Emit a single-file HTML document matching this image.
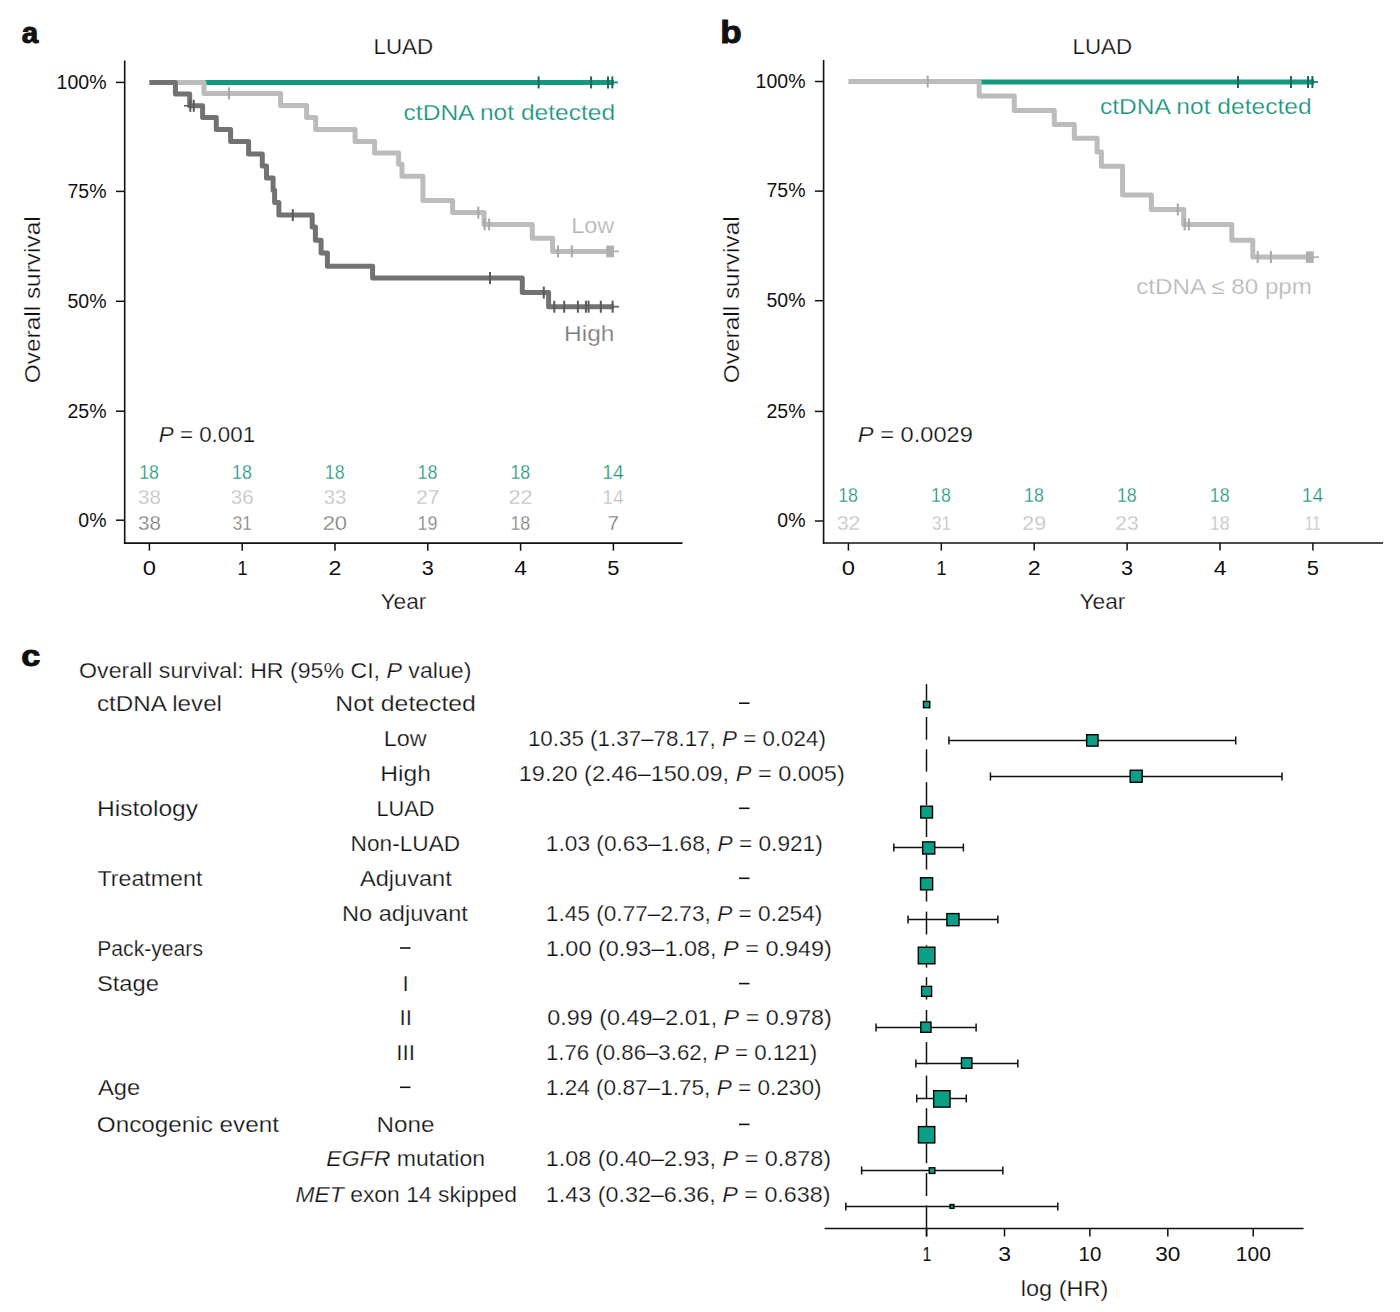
<!DOCTYPE html>
<html><head><meta charset="utf-8"><style>
html,body{margin:0;padding:0;background:#fff;}
svg{display:block;font-family:"Liberation Sans",sans-serif;}
text{stroke:#fff;stroke-width:0.25px;}
text.sm{stroke:none;}
</style></head><body>
<svg width="1400" height="1312" viewBox="0 0 1400 1312">
<rect width="1400" height="1312" fill="#fff"/>
<line x1="124.70" y1="60.60" x2="124.70" y2="543.85" stroke="#111" stroke-width="1.6"/>
<line x1="123.90" y1="543.10" x2="682.50" y2="543.10" stroke="#111" stroke-width="1.6"/>
<line x1="116.00" y1="82.40" x2="124.70" y2="82.40" stroke="#111" stroke-width="1.5"/>
<line x1="116.00" y1="191.40" x2="124.70" y2="191.40" stroke="#111" stroke-width="1.5"/>
<line x1="116.00" y1="301.30" x2="124.70" y2="301.30" stroke="#111" stroke-width="1.5"/>
<line x1="116.00" y1="411.20" x2="124.70" y2="411.20" stroke="#111" stroke-width="1.5"/>
<line x1="116.00" y1="520.20" x2="124.70" y2="520.20" stroke="#111" stroke-width="1.5"/>
<line x1="149.40" y1="543.10" x2="149.40" y2="550.70" stroke="#111" stroke-width="1.5"/>
<line x1="242.20" y1="543.10" x2="242.20" y2="550.70" stroke="#111" stroke-width="1.5"/>
<line x1="335.00" y1="543.10" x2="335.00" y2="550.70" stroke="#111" stroke-width="1.5"/>
<line x1="427.80" y1="543.10" x2="427.80" y2="550.70" stroke="#111" stroke-width="1.5"/>
<line x1="520.60" y1="543.10" x2="520.60" y2="550.70" stroke="#111" stroke-width="1.5"/>
<line x1="613.40" y1="543.10" x2="613.40" y2="550.70" stroke="#111" stroke-width="1.5"/>
<line x1="823.60" y1="60.00" x2="823.60" y2="543.75" stroke="#111" stroke-width="1.6"/>
<line x1="822.80" y1="543.00" x2="1383.00" y2="543.00" stroke="#111" stroke-width="1.6"/>
<line x1="814.90" y1="81.50" x2="823.60" y2="81.50" stroke="#111" stroke-width="1.5"/>
<line x1="814.90" y1="191.10" x2="823.60" y2="191.10" stroke="#111" stroke-width="1.5"/>
<line x1="814.90" y1="300.70" x2="823.60" y2="300.70" stroke="#111" stroke-width="1.5"/>
<line x1="814.90" y1="411.40" x2="823.60" y2="411.40" stroke="#111" stroke-width="1.5"/>
<line x1="814.90" y1="521.00" x2="823.60" y2="521.00" stroke="#111" stroke-width="1.5"/>
<line x1="848.40" y1="543.00" x2="848.40" y2="550.60" stroke="#111" stroke-width="1.5"/>
<line x1="941.30" y1="543.00" x2="941.30" y2="550.60" stroke="#111" stroke-width="1.5"/>
<line x1="1034.20" y1="543.00" x2="1034.20" y2="550.60" stroke="#111" stroke-width="1.5"/>
<line x1="1127.10" y1="543.00" x2="1127.10" y2="550.60" stroke="#111" stroke-width="1.5"/>
<line x1="1220.00" y1="543.00" x2="1220.00" y2="550.60" stroke="#111" stroke-width="1.5"/>
<line x1="1312.90" y1="543.00" x2="1312.90" y2="550.60" stroke="#111" stroke-width="1.5"/>
<line x1="202.00" y1="82.40" x2="614.00" y2="82.40" stroke="#119a80" stroke-width="5.0"/>
<line x1="614.00" y1="82.40" x2="618.00" y2="82.40" stroke="#119a80" stroke-width="2"/>
<line x1="538.60" y1="76.40" x2="538.60" y2="88.40" stroke="#1d6656" stroke-width="2.0"/>
<line x1="591.10" y1="76.40" x2="591.10" y2="88.40" stroke="#1d6656" stroke-width="2.0"/>
<line x1="608.00" y1="76.40" x2="608.00" y2="88.40" stroke="#1d6656" stroke-width="2.0"/>
<line x1="612.30" y1="76.40" x2="612.30" y2="88.40" stroke="#1d6656" stroke-width="2.0"/>
<path d="M149.40,82.40 H204.00 V93.40 H280.60 V105.40 H306.60 V117.40 H315.70 V129.40 H355.10 V141.40 H374.60 V152.90 H398.60 V164.30 H402.00 V176.30 H422.90 V200.60 H452.60 V212.60 H484.00 V224.40 H532.30 V238.30 H552.60 V251.40 H614.00" fill="none" stroke="#bcbcbc" stroke-width="5.0" stroke-linejoin="round" stroke-linecap="butt"/>
<line x1="614.00" y1="251.40" x2="619.00" y2="251.40" stroke="#bcbcbc" stroke-width="2"/>
<line x1="228.90" y1="87.40" x2="228.90" y2="99.40" stroke="#a8a8a8" stroke-width="2.0"/>
<line x1="478.30" y1="206.60" x2="478.30" y2="218.60" stroke="#a8a8a8" stroke-width="2.0"/>
<line x1="484.60" y1="218.40" x2="484.60" y2="230.40" stroke="#a8a8a8" stroke-width="2.0"/>
<line x1="489.10" y1="218.40" x2="489.10" y2="230.40" stroke="#a8a8a8" stroke-width="2.0"/>
<line x1="558.00" y1="245.40" x2="558.00" y2="257.40" stroke="#a8a8a8" stroke-width="2.0"/>
<line x1="571.80" y1="245.40" x2="571.80" y2="257.40" stroke="#a8a8a8" stroke-width="2.0"/>
<rect x="606.2" y="245.6" width="7.8" height="11.6" fill="#b0b0b0"/>
<path d="M149.40,82.40 H175.40 V93.90 H189.70 V105.80 H202.60 V117.40 H216.30 V129.40 H230.60 V141.40 H248.60 V154.00 H262.30 V166.00 H266.50 V178.00 H273.10 V190.30 H274.60 V202.60 H278.90 V215.10 H312.20 V227.10 H315.40 V240.30 H321.10 V252.90 H327.40 V266.30 H372.60 V278.00 H522.30 V292.60 H548.60 V306.70 H614.00" fill="none" stroke="#727272" stroke-width="5.0" stroke-linejoin="round" stroke-linecap="butt"/>
<line x1="614.00" y1="306.70" x2="619.00" y2="306.70" stroke="#727272" stroke-width="2"/>
<line x1="190.30" y1="99.80" x2="190.30" y2="111.80" stroke="#5a5a5a" stroke-width="2.0"/>
<line x1="193.80" y1="99.80" x2="193.80" y2="111.80" stroke="#5a5a5a" stroke-width="2.0"/>
<line x1="184.00" y1="105.80" x2="190.00" y2="105.80" stroke="#5a5a5a" stroke-width="1.5"/>
<line x1="292.80" y1="209.10" x2="292.80" y2="221.10" stroke="#5a5a5a" stroke-width="2.0"/>
<line x1="490.00" y1="272.00" x2="490.00" y2="284.00" stroke="#5a5a5a" stroke-width="2.0"/>
<line x1="543.80" y1="286.60" x2="543.80" y2="298.60" stroke="#5a5a5a" stroke-width="2.0"/>
<line x1="554.30" y1="300.70" x2="554.30" y2="312.70" stroke="#5a5a5a" stroke-width="2.0"/>
<line x1="564.20" y1="300.70" x2="564.20" y2="312.70" stroke="#5a5a5a" stroke-width="2.0"/>
<line x1="577.90" y1="300.70" x2="577.90" y2="312.70" stroke="#5a5a5a" stroke-width="2.0"/>
<line x1="585.90" y1="300.70" x2="585.90" y2="312.70" stroke="#5a5a5a" stroke-width="2.0"/>
<line x1="588.60" y1="300.70" x2="588.60" y2="312.70" stroke="#5a5a5a" stroke-width="2.0"/>
<line x1="600.80" y1="300.70" x2="600.80" y2="312.70" stroke="#5a5a5a" stroke-width="2.0"/>
<line x1="612.60" y1="300.70" x2="612.60" y2="312.70" stroke="#5a5a5a" stroke-width="2.0"/>
<line x1="977.00" y1="82.00" x2="1314.00" y2="82.00" stroke="#119a80" stroke-width="5.0"/>
<line x1="1314.00" y1="82.00" x2="1318.00" y2="82.00" stroke="#119a80" stroke-width="2"/>
<line x1="1238.00" y1="76.00" x2="1238.00" y2="88.00" stroke="#1d6656" stroke-width="2.0"/>
<line x1="1291.00" y1="76.00" x2="1291.00" y2="88.00" stroke="#1d6656" stroke-width="2.0"/>
<line x1="1308.00" y1="76.00" x2="1308.00" y2="88.00" stroke="#1d6656" stroke-width="2.0"/>
<line x1="1312.40" y1="76.00" x2="1312.40" y2="88.00" stroke="#1d6656" stroke-width="2.0"/>
<path d="M848.40,81.60 H979.20 V96.10 H1014.30 V110.60 H1054.30 V124.50 H1074.30 V138.30 H1097.10 V152.10 H1101.40 V166.30 H1122.60 V195.10 H1151.40 V209.40 H1183.70 V224.40 H1231.80 V240.20 H1252.80 V257.10 H1314.00" fill="none" stroke="#bcbcbc" stroke-width="5.0" stroke-linejoin="round" stroke-linecap="butt"/>
<line x1="1314.00" y1="257.10" x2="1319.00" y2="257.10" stroke="#bcbcbc" stroke-width="2"/>
<line x1="927.70" y1="75.60" x2="927.70" y2="87.60" stroke="#a8a8a8" stroke-width="2.0"/>
<line x1="1177.80" y1="203.40" x2="1177.80" y2="215.40" stroke="#a8a8a8" stroke-width="2.0"/>
<line x1="1184.60" y1="218.40" x2="1184.60" y2="230.40" stroke="#a8a8a8" stroke-width="2.0"/>
<line x1="1188.90" y1="218.40" x2="1188.90" y2="230.40" stroke="#a8a8a8" stroke-width="2.0"/>
<line x1="1257.70" y1="251.10" x2="1257.70" y2="263.10" stroke="#a8a8a8" stroke-width="2.0"/>
<line x1="1270.90" y1="251.10" x2="1270.90" y2="263.10" stroke="#a8a8a8" stroke-width="2.0"/>
<rect x="1306.0" y="251.3" width="7.8" height="11.6" fill="#b0b0b0"/>
<text x="21.73" y="43.40" font-size="30" fill="#111" textLength="16.48" lengthAdjust="spacingAndGlyphs" style="stroke:#111;stroke-width:1.0px"><tspan font-weight="bold">a</tspan></text>
<text x="720.18" y="43.40" font-size="32" fill="#111" textLength="21.46" lengthAdjust="spacingAndGlyphs" style="stroke:#111;stroke-width:1.0px"><tspan font-weight="bold">b</tspan></text>
<text x="373.47" y="53.90" font-size="21.5" fill="#111" textLength="59.60" lengthAdjust="spacingAndGlyphs">LUAD</text>
<text x="1072.57" y="53.60" font-size="21.5" fill="#111" textLength="59.50" lengthAdjust="spacingAndGlyphs">LUAD</text>
<text x="403.56" y="119.90" font-size="22.5" fill="#13927a" textLength="211.61" lengthAdjust="spacingAndGlyphs">ctDNA not detected</text>
<text x="1099.96" y="114.40" font-size="22.5" fill="#13927a" textLength="211.61" lengthAdjust="spacingAndGlyphs">ctDNA not detected</text>
<text x="571.17" y="232.80" font-size="22.5" fill="#b3b3b3" textLength="43.07" lengthAdjust="spacingAndGlyphs">Low</text>
<text x="564.09" y="340.90" font-size="22.5" fill="#7a7a7a" textLength="50.40" lengthAdjust="spacingAndGlyphs">High</text>
<text x="1136.28" y="294.30" font-size="21.5" fill="#b8b8b8" textLength="175.60" lengthAdjust="spacingAndGlyphs">ctDNA ≤ 80 ppm</text>
<text class="sm" x="56.62" y="88.70" font-size="19.5" fill="#111" textLength="49.87" lengthAdjust="spacingAndGlyphs">100%</text>
<text class="sm" x="67.47" y="197.70" font-size="19.5" fill="#111" textLength="39.03" lengthAdjust="spacingAndGlyphs">75%</text>
<text class="sm" x="67.47" y="307.60" font-size="19.5" fill="#111" textLength="39.03" lengthAdjust="spacingAndGlyphs">50%</text>
<text class="sm" x="67.47" y="417.50" font-size="19.5" fill="#111" textLength="39.03" lengthAdjust="spacingAndGlyphs">25%</text>
<text class="sm" x="78.31" y="526.50" font-size="19.5" fill="#111" textLength="28.18" lengthAdjust="spacingAndGlyphs">0%</text>
<text class="sm" x="142.77" y="575.00" font-size="19.5" fill="#111" textLength="13.26" lengthAdjust="spacingAndGlyphs">0</text>
<text class="sm" x="237.52" y="575.00" font-size="19.5" fill="#111" textLength="10.06" lengthAdjust="spacingAndGlyphs">1</text>
<text class="sm" x="328.53" y="575.00" font-size="19.5" fill="#111" textLength="12.94" lengthAdjust="spacingAndGlyphs">2</text>
<text class="sm" x="421.82" y="575.00" font-size="19.5" fill="#111" textLength="12.08" lengthAdjust="spacingAndGlyphs">3</text>
<text class="sm" x="514.27" y="575.00" font-size="19.5" fill="#111" textLength="12.80" lengthAdjust="spacingAndGlyphs">4</text>
<text class="sm" x="607.32" y="575.00" font-size="19.5" fill="#111" textLength="12.20" lengthAdjust="spacingAndGlyphs">5</text>
<g transform="translate(40.20,300) rotate(-90)">
<text x="-83.16" y="0.00" font-size="22.5" fill="#111" textLength="166.79" lengthAdjust="spacingAndGlyphs">Overall survival</text>
</g>
<text x="380.52" y="609.00" font-size="22" fill="#111" textLength="45.84" lengthAdjust="spacingAndGlyphs">Year</text>
<text class="sm" x="755.62" y="87.80" font-size="19.5" fill="#111" textLength="49.87" lengthAdjust="spacingAndGlyphs">100%</text>
<text class="sm" x="766.47" y="197.40" font-size="19.5" fill="#111" textLength="39.03" lengthAdjust="spacingAndGlyphs">75%</text>
<text class="sm" x="766.47" y="307.00" font-size="19.5" fill="#111" textLength="39.03" lengthAdjust="spacingAndGlyphs">50%</text>
<text class="sm" x="766.47" y="417.70" font-size="19.5" fill="#111" textLength="39.03" lengthAdjust="spacingAndGlyphs">25%</text>
<text class="sm" x="777.31" y="527.30" font-size="19.5" fill="#111" textLength="28.18" lengthAdjust="spacingAndGlyphs">0%</text>
<text class="sm" x="841.77" y="575.00" font-size="19.5" fill="#111" textLength="13.26" lengthAdjust="spacingAndGlyphs">0</text>
<text class="sm" x="936.62" y="575.00" font-size="19.5" fill="#111" textLength="10.06" lengthAdjust="spacingAndGlyphs">1</text>
<text class="sm" x="1027.73" y="575.00" font-size="19.5" fill="#111" textLength="12.94" lengthAdjust="spacingAndGlyphs">2</text>
<text class="sm" x="1121.12" y="575.00" font-size="19.5" fill="#111" textLength="12.08" lengthAdjust="spacingAndGlyphs">3</text>
<text class="sm" x="1213.67" y="575.00" font-size="19.5" fill="#111" textLength="12.80" lengthAdjust="spacingAndGlyphs">4</text>
<text class="sm" x="1306.82" y="575.00" font-size="19.5" fill="#111" textLength="12.20" lengthAdjust="spacingAndGlyphs">5</text>
<g transform="translate(739.20,300) rotate(-90)">
<text x="-83.16" y="0.00" font-size="22.5" fill="#111" textLength="166.79" lengthAdjust="spacingAndGlyphs">Overall survival</text>
</g>
<text x="1079.52" y="609.00" font-size="22" fill="#111" textLength="45.84" lengthAdjust="spacingAndGlyphs">Year</text>
<text x="158.81" y="442.00" font-size="22" fill="#111" textLength="96.28" lengthAdjust="spacingAndGlyphs"><tspan font-style="italic">P</tspan> = 0.001</text>
<text x="857.87" y="441.80" font-size="22" fill="#111" textLength="114.95" lengthAdjust="spacingAndGlyphs"><tspan font-style="italic">P</tspan> = 0.0029</text>
<text x="139.19" y="478.90" font-size="20" fill="#13927a" textLength="19.83" lengthAdjust="spacingAndGlyphs" style="stroke:#fff;stroke-width:0.3px">18</text>
<text x="231.99" y="478.90" font-size="20" fill="#13927a" textLength="19.83" lengthAdjust="spacingAndGlyphs" style="stroke:#fff;stroke-width:0.3px">18</text>
<text x="324.79" y="478.90" font-size="20" fill="#13927a" textLength="19.83" lengthAdjust="spacingAndGlyphs" style="stroke:#fff;stroke-width:0.3px">18</text>
<text x="417.59" y="478.90" font-size="20" fill="#13927a" textLength="19.83" lengthAdjust="spacingAndGlyphs" style="stroke:#fff;stroke-width:0.3px">18</text>
<text x="510.39" y="478.90" font-size="20" fill="#13927a" textLength="19.83" lengthAdjust="spacingAndGlyphs" style="stroke:#fff;stroke-width:0.3px">18</text>
<text x="602.17" y="478.90" font-size="20" fill="#13927a" textLength="21.54" lengthAdjust="spacingAndGlyphs" style="stroke:#fff;stroke-width:0.3px">14</text>
<text x="138.07" y="504.00" font-size="20" fill="#bfbfbf" textLength="22.77" lengthAdjust="spacingAndGlyphs" style="stroke:#fff;stroke-width:0.3px">38</text>
<text x="230.82" y="504.00" font-size="20" fill="#bfbfbf" textLength="22.89" lengthAdjust="spacingAndGlyphs" style="stroke:#fff;stroke-width:0.3px">36</text>
<text x="323.78" y="504.00" font-size="20" fill="#bfbfbf" textLength="22.56" lengthAdjust="spacingAndGlyphs" style="stroke:#fff;stroke-width:0.3px">33</text>
<text x="415.98" y="504.00" font-size="20" fill="#bfbfbf" textLength="23.64" lengthAdjust="spacingAndGlyphs" style="stroke:#fff;stroke-width:0.3px">27</text>
<text x="508.56" y="504.00" font-size="20" fill="#bfbfbf" textLength="24.08" lengthAdjust="spacingAndGlyphs" style="stroke:#fff;stroke-width:0.3px">22</text>
<text x="602.17" y="504.00" font-size="20" fill="#bfbfbf" textLength="21.54" lengthAdjust="spacingAndGlyphs" style="stroke:#fff;stroke-width:0.3px">14</text>
<text x="138.07" y="529.60" font-size="20" fill="#7a7a7a" textLength="22.77" lengthAdjust="spacingAndGlyphs" style="stroke:#fff;stroke-width:0.3px">38</text>
<text x="232.80" y="529.60" font-size="20" fill="#7a7a7a" textLength="18.98" lengthAdjust="spacingAndGlyphs" style="stroke:#fff;stroke-width:0.3px">31</text>
<text x="322.70" y="529.60" font-size="20" fill="#7a7a7a" textLength="24.36" lengthAdjust="spacingAndGlyphs" style="stroke:#fff;stroke-width:0.3px">20</text>
<text x="417.53" y="529.60" font-size="20" fill="#7a7a7a" textLength="20.02" lengthAdjust="spacingAndGlyphs" style="stroke:#fff;stroke-width:0.3px">19</text>
<text x="510.39" y="529.60" font-size="20" fill="#7a7a7a" textLength="19.83" lengthAdjust="spacingAndGlyphs" style="stroke:#fff;stroke-width:0.3px">18</text>
<text x="607.64" y="529.60" font-size="20" fill="#7a7a7a" textLength="11.50" lengthAdjust="spacingAndGlyphs" style="stroke:#fff;stroke-width:0.3px">7</text>
<text x="838.19" y="501.50" font-size="20" fill="#13927a" textLength="19.83" lengthAdjust="spacingAndGlyphs" style="stroke:#fff;stroke-width:0.3px">18</text>
<text x="931.09" y="501.50" font-size="20" fill="#13927a" textLength="19.83" lengthAdjust="spacingAndGlyphs" style="stroke:#fff;stroke-width:0.3px">18</text>
<text x="1023.99" y="501.50" font-size="20" fill="#13927a" textLength="19.83" lengthAdjust="spacingAndGlyphs" style="stroke:#fff;stroke-width:0.3px">18</text>
<text x="1116.89" y="501.50" font-size="20" fill="#13927a" textLength="19.83" lengthAdjust="spacingAndGlyphs" style="stroke:#fff;stroke-width:0.3px">18</text>
<text x="1209.79" y="501.50" font-size="20" fill="#13927a" textLength="19.83" lengthAdjust="spacingAndGlyphs" style="stroke:#fff;stroke-width:0.3px">18</text>
<text x="1301.67" y="501.50" font-size="20" fill="#13927a" textLength="21.54" lengthAdjust="spacingAndGlyphs" style="stroke:#fff;stroke-width:0.3px">14</text>
<text x="836.90" y="529.60" font-size="20" fill="#bfbfbf" textLength="23.25" lengthAdjust="spacingAndGlyphs" style="stroke:#fff;stroke-width:0.3px">32</text>
<text x="931.90" y="529.60" font-size="20" fill="#bfbfbf" textLength="18.98" lengthAdjust="spacingAndGlyphs" style="stroke:#fff;stroke-width:0.3px">31</text>
<text x="1022.27" y="529.60" font-size="20" fill="#bfbfbf" textLength="23.79" lengthAdjust="spacingAndGlyphs" style="stroke:#fff;stroke-width:0.3px">29</text>
<text x="1115.34" y="529.60" font-size="20" fill="#bfbfbf" textLength="23.38" lengthAdjust="spacingAndGlyphs" style="stroke:#fff;stroke-width:0.3px">23</text>
<text x="1209.79" y="529.60" font-size="20" fill="#bfbfbf" textLength="19.83" lengthAdjust="spacingAndGlyphs" style="stroke:#fff;stroke-width:0.3px">18</text>
<text x="1304.76" y="529.60" font-size="20" fill="#bfbfbf" textLength="15.89" lengthAdjust="spacingAndGlyphs" style="stroke:#fff;stroke-width:0.3px">11</text>
<text x="21.16" y="665.80" font-size="30" fill="#111" textLength="19.04" lengthAdjust="spacingAndGlyphs" style="stroke:#111;stroke-width:1.0px"><tspan font-weight="bold">c</tspan></text>
<text x="79.10" y="677.90" font-size="21.5" fill="#111" textLength="392.33" lengthAdjust="spacingAndGlyphs">Overall survival: HR (95% CI, <tspan font-style="italic">P</tspan> value)</text>
<text x="96.98" y="710.80" font-size="22" fill="#111" textLength="125.02" lengthAdjust="spacingAndGlyphs">ctDNA level</text>
<text x="96.98" y="815.90" font-size="22" fill="#111" textLength="101.06" lengthAdjust="spacingAndGlyphs">Histology</text>
<text x="97.48" y="885.90" font-size="22" fill="#111" textLength="104.89" lengthAdjust="spacingAndGlyphs">Treatment</text>
<text x="97.27" y="955.60" font-size="22" fill="#111" textLength="105.70" lengthAdjust="spacingAndGlyphs">Pack-years</text>
<text x="96.92" y="991.20" font-size="22" fill="#111" textLength="62.03" lengthAdjust="spacingAndGlyphs">Stage</text>
<text x="97.95" y="1094.90" font-size="22" fill="#111" textLength="42.30" lengthAdjust="spacingAndGlyphs">Age</text>
<text x="96.85" y="1132.00" font-size="22" fill="#111" textLength="182.13" lengthAdjust="spacingAndGlyphs">Oncogenic event</text>
<text x="335.37" y="710.80" font-size="22" fill="#111" textLength="140.53" lengthAdjust="spacingAndGlyphs">Not detected</text>
<text x="383.68" y="745.80" font-size="22" fill="#111" textLength="42.96" lengthAdjust="spacingAndGlyphs">Low</text>
<text x="380.28" y="781.20" font-size="22" fill="#111" textLength="50.62" lengthAdjust="spacingAndGlyphs">High</text>
<text x="376.42" y="815.90" font-size="22" fill="#111" textLength="58.03" lengthAdjust="spacingAndGlyphs">LUAD</text>
<text x="350.64" y="850.80" font-size="22" fill="#111" textLength="109.54" lengthAdjust="spacingAndGlyphs">Non-LUAD</text>
<text x="359.95" y="885.90" font-size="22" fill="#111" textLength="91.82" lengthAdjust="spacingAndGlyphs">Adjuvant</text>
<text x="341.96" y="921.00" font-size="22" fill="#111" textLength="125.91" lengthAdjust="spacingAndGlyphs">No adjuvant</text>
<text x="402.57" y="991.20" font-size="22.5" fill="#111" textLength="6.25" lengthAdjust="spacingAndGlyphs">I</text>
<text x="399.47" y="1025.00" font-size="22.5" fill="#111" textLength="12.50" lengthAdjust="spacingAndGlyphs">II</text>
<text x="396.27" y="1059.60" font-size="22.5" fill="#111" textLength="18.75" lengthAdjust="spacingAndGlyphs">III</text>
<text x="376.41" y="1132.00" font-size="22" fill="#111" textLength="57.97" lengthAdjust="spacingAndGlyphs">None</text>
<text x="326.39" y="1165.80" font-size="22" fill="#111" textLength="158.70" lengthAdjust="spacingAndGlyphs"><tspan font-style="italic">EGFR</tspan> mutation</text>
<text x="295.50" y="1202.00" font-size="22" fill="#111" textLength="221.38" lengthAdjust="spacingAndGlyphs"><tspan font-style="italic">MET</tspan> exon 14 skipped</text>
<line x1="400.00" y1="948.00" x2="410.50" y2="948.00" stroke="#111" stroke-width="1.6"/>
<line x1="400.00" y1="1087.30" x2="410.50" y2="1087.30" stroke="#111" stroke-width="1.6"/>
<text x="527.90" y="745.80" font-size="22" fill="#111" textLength="297.99" lengthAdjust="spacingAndGlyphs">10.35 (1.37–78.17, <tspan font-style="italic">P</tspan> = 0.024)</text>
<text x="518.81" y="781.20" font-size="22" fill="#111" textLength="325.95" lengthAdjust="spacingAndGlyphs">19.20 (2.46–150.09, <tspan font-style="italic">P</tspan> = 0.005)</text>
<text x="545.87" y="850.80" font-size="22" fill="#111" textLength="276.94" lengthAdjust="spacingAndGlyphs">1.03 (0.63–1.68, <tspan font-style="italic">P</tspan> = 0.921)</text>
<text x="545.87" y="921.00" font-size="22" fill="#111" textLength="276.43" lengthAdjust="spacingAndGlyphs">1.45 (0.77–2.73, <tspan font-style="italic">P</tspan> = 0.254)</text>
<text x="545.81" y="955.60" font-size="22" fill="#111" textLength="286.04" lengthAdjust="spacingAndGlyphs">1.00 (0.93–1.08, <tspan font-style="italic">P</tspan> = 0.949)</text>
<text x="547.39" y="1025.00" font-size="22" fill="#111" textLength="284.46" lengthAdjust="spacingAndGlyphs">0.99 (0.49–2.01, <tspan font-style="italic">P</tspan> = 0.978)</text>
<text x="545.91" y="1059.60" font-size="22" fill="#111" textLength="271.27" lengthAdjust="spacingAndGlyphs">1.76 (0.86–3.62, <tspan font-style="italic">P</tspan> = 0.121)</text>
<text x="545.88" y="1094.90" font-size="22" fill="#111" textLength="275.62" lengthAdjust="spacingAndGlyphs">1.24 (0.87–1.75, <tspan font-style="italic">P</tspan> = 0.230)</text>
<text x="545.82" y="1165.80" font-size="22" fill="#111" textLength="285.23" lengthAdjust="spacingAndGlyphs">1.08 (0.40–2.93, <tspan font-style="italic">P</tspan> = 0.878)</text>
<text x="545.82" y="1202.00" font-size="22" fill="#111" textLength="284.72" lengthAdjust="spacingAndGlyphs">1.43 (0.32–6.36, <tspan font-style="italic">P</tspan> = 0.638)</text>
<line x1="739.00" y1="703.20" x2="749.50" y2="703.20" stroke="#111" stroke-width="1.6"/>
<line x1="739.00" y1="808.30" x2="749.50" y2="808.30" stroke="#111" stroke-width="1.6"/>
<line x1="739.00" y1="878.30" x2="749.50" y2="878.30" stroke="#111" stroke-width="1.6"/>
<line x1="739.00" y1="983.60" x2="749.50" y2="983.60" stroke="#111" stroke-width="1.6"/>
<line x1="739.00" y1="1124.40" x2="749.50" y2="1124.40" stroke="#111" stroke-width="1.6"/>
<line x1="926.50" y1="684.10" x2="926.50" y2="700.60" stroke="#111" stroke-width="1.5"/>
<line x1="926.50" y1="717.00" x2="926.50" y2="739.70" stroke="#111" stroke-width="1.5"/>
<line x1="926.50" y1="749.30" x2="926.50" y2="771.60" stroke="#111" stroke-width="1.5"/>
<line x1="926.50" y1="782.20" x2="926.50" y2="805.10" stroke="#111" stroke-width="1.5"/>
<line x1="926.50" y1="818.50" x2="926.50" y2="837.00" stroke="#111" stroke-width="1.5"/>
<line x1="926.50" y1="854.50" x2="926.50" y2="869.50" stroke="#111" stroke-width="1.5"/>
<line x1="926.50" y1="890.30" x2="926.50" y2="901.50" stroke="#111" stroke-width="1.5"/>
<line x1="926.50" y1="911.60" x2="926.50" y2="934.50" stroke="#111" stroke-width="1.5"/>
<line x1="926.50" y1="945.20" x2="926.50" y2="946.50" stroke="#111" stroke-width="1.5"/>
<line x1="926.50" y1="964.40" x2="926.50" y2="967.60" stroke="#111" stroke-width="1.5"/>
<line x1="926.50" y1="977.20" x2="926.50" y2="985.20" stroke="#111" stroke-width="1.5"/>
<line x1="926.50" y1="996.40" x2="926.50" y2="999.60" stroke="#111" stroke-width="1.5"/>
<line x1="926.50" y1="1010.00" x2="926.50" y2="1021.50" stroke="#111" stroke-width="1.5"/>
<line x1="926.50" y1="1042.10" x2="926.50" y2="1064.30" stroke="#111" stroke-width="1.5"/>
<line x1="926.50" y1="1075.50" x2="926.50" y2="1098.75" stroke="#111" stroke-width="1.5"/>
<line x1="926.50" y1="1108.20" x2="926.50" y2="1126.40" stroke="#111" stroke-width="1.5"/>
<line x1="926.50" y1="1143.40" x2="926.50" y2="1163.20" stroke="#111" stroke-width="1.5"/>
<line x1="926.50" y1="1173.00" x2="926.50" y2="1196.00" stroke="#111" stroke-width="1.5"/>
<line x1="926.50" y1="1205.40" x2="926.50" y2="1236.50" stroke="#111" stroke-width="1.5"/>
<rect x="923.45" y="701.40" width="6.30" height="6.30" fill="#0aa086" stroke="#000" stroke-width="1.4"/>
<line x1="948.93" y1="740.50" x2="1235.73" y2="740.50" stroke="#111" stroke-width="1.5"/>
<line x1="948.93" y1="736.50" x2="948.93" y2="744.50" stroke="#111" stroke-width="1.5"/>
<line x1="1235.73" y1="736.50" x2="1235.73" y2="744.50" stroke="#111" stroke-width="1.5"/>
<rect x="1086.64" y="734.70" width="11.40" height="11.40" fill="#0aa086" stroke="#000" stroke-width="1.4"/>
<line x1="990.44" y1="776.50" x2="1282.00" y2="776.50" stroke="#111" stroke-width="1.5"/>
<line x1="990.44" y1="772.50" x2="990.44" y2="780.50" stroke="#111" stroke-width="1.5"/>
<line x1="1282.00" y1="772.50" x2="1282.00" y2="780.50" stroke="#111" stroke-width="1.5"/>
<rect x="1130.16" y="770.25" width="12.00" height="12.00" fill="#0aa086" stroke="#000" stroke-width="1.4"/>
<rect x="920.70" y="806.20" width="11.80" height="11.80" fill="#0aa086" stroke="#000" stroke-width="1.4"/>
<line x1="893.83" y1="847.50" x2="963.39" y2="847.50" stroke="#111" stroke-width="1.5"/>
<line x1="893.83" y1="843.50" x2="893.83" y2="851.50" stroke="#111" stroke-width="1.5"/>
<line x1="963.39" y1="843.50" x2="963.39" y2="851.50" stroke="#111" stroke-width="1.5"/>
<rect x="922.65" y="841.90" width="12.10" height="12.10" fill="#0aa086" stroke="#000" stroke-width="1.4"/>
<rect x="920.55" y="877.75" width="12.10" height="12.10" fill="#0aa086" stroke="#000" stroke-width="1.4"/>
<line x1="908.06" y1="919.50" x2="997.83" y2="919.50" stroke="#111" stroke-width="1.5"/>
<line x1="908.06" y1="915.50" x2="908.06" y2="923.50" stroke="#111" stroke-width="1.5"/>
<line x1="997.83" y1="915.50" x2="997.83" y2="923.50" stroke="#111" stroke-width="1.5"/>
<rect x="946.90" y="913.60" width="12.10" height="12.10" fill="#0aa086" stroke="#000" stroke-width="1.4"/>
<line x1="921.45" y1="955.50" x2="932.06" y2="955.50" stroke="#111" stroke-width="1.5"/>
<line x1="921.45" y1="951.50" x2="921.45" y2="959.50" stroke="#111" stroke-width="1.5"/>
<line x1="932.06" y1="951.50" x2="932.06" y2="959.50" stroke="#111" stroke-width="1.5"/>
<rect x="918.30" y="947.20" width="16.60" height="16.60" fill="#0aa086" stroke="#000" stroke-width="1.4"/>
<rect x="921.60" y="986.35" width="10.00" height="10.00" fill="#0aa086" stroke="#000" stroke-width="1.4"/>
<line x1="876.01" y1="1027.50" x2="976.11" y2="1027.50" stroke="#111" stroke-width="1.5"/>
<line x1="876.01" y1="1023.50" x2="876.01" y2="1031.50" stroke="#111" stroke-width="1.5"/>
<line x1="976.11" y1="1023.50" x2="976.11" y2="1031.50" stroke="#111" stroke-width="1.5"/>
<rect x="920.79" y="1022.10" width="10.20" height="10.20" fill="#0aa086" stroke="#000" stroke-width="1.4"/>
<line x1="915.90" y1="1063.50" x2="1017.84" y2="1063.50" stroke="#111" stroke-width="1.5"/>
<line x1="915.90" y1="1059.50" x2="915.90" y2="1067.50" stroke="#111" stroke-width="1.5"/>
<line x1="1017.84" y1="1059.50" x2="1017.84" y2="1067.50" stroke="#111" stroke-width="1.5"/>
<rect x="961.49" y="1057.85" width="10.40" height="10.40" fill="#0aa086" stroke="#000" stroke-width="1.4"/>
<line x1="916.72" y1="1098.50" x2="966.29" y2="1098.50" stroke="#111" stroke-width="1.5"/>
<line x1="916.72" y1="1094.50" x2="916.72" y2="1102.50" stroke="#111" stroke-width="1.5"/>
<line x1="966.29" y1="1094.50" x2="966.29" y2="1102.50" stroke="#111" stroke-width="1.5"/>
<rect x="933.66" y="1090.70" width="16.40" height="16.40" fill="#0aa086" stroke="#000" stroke-width="1.4"/>
<rect x="918.45" y="1126.60" width="16.30" height="16.30" fill="#0aa086" stroke="#000" stroke-width="1.4"/>
<line x1="861.62" y1="1170.50" x2="1002.84" y2="1170.50" stroke="#111" stroke-width="1.5"/>
<line x1="861.62" y1="1166.50" x2="861.62" y2="1174.50" stroke="#111" stroke-width="1.5"/>
<line x1="1002.84" y1="1166.50" x2="1002.84" y2="1174.50" stroke="#111" stroke-width="1.5"/>
<rect x="929.26" y="1167.80" width="5.60" height="5.60" fill="#0aa086" stroke="#000" stroke-width="1.4"/>
<line x1="845.79" y1="1206.50" x2="1057.80" y2="1206.50" stroke="#111" stroke-width="1.5"/>
<line x1="845.79" y1="1202.50" x2="845.79" y2="1210.50" stroke="#111" stroke-width="1.5"/>
<line x1="1057.80" y1="1202.50" x2="1057.80" y2="1210.50" stroke="#111" stroke-width="1.5"/>
<rect x="950.07" y="1204.55" width="3.80" height="3.80" fill="#0aa086" stroke="#000" stroke-width="1.4"/>
<line x1="824.60" y1="1228.50" x2="1303.60" y2="1228.50" stroke="#111" stroke-width="1.5"/>
<line x1="926.60" y1="1228.50" x2="926.60" y2="1236.50" stroke="#111" stroke-width="1.5"/>
<text class="sm" x="922.50" y="1261.00" font-size="19.5" fill="#111" textLength="8.77" lengthAdjust="spacingAndGlyphs">1</text>
<line x1="1004.51" y1="1228.50" x2="1004.51" y2="1236.50" stroke="#111" stroke-width="1.5"/>
<text class="sm" x="998.19" y="1261.00" font-size="19.5" fill="#111" textLength="12.79" lengthAdjust="spacingAndGlyphs">3</text>
<line x1="1089.90" y1="1228.50" x2="1089.90" y2="1236.50" stroke="#111" stroke-width="1.5"/>
<text class="sm" x="1078.64" y="1261.00" font-size="19.5" fill="#111" textLength="22.76" lengthAdjust="spacingAndGlyphs">10</text>
<line x1="1167.81" y1="1228.50" x2="1167.81" y2="1236.50" stroke="#111" stroke-width="1.5"/>
<text class="sm" x="1155.25" y="1261.00" font-size="19.5" fill="#111" textLength="25.14" lengthAdjust="spacingAndGlyphs">30</text>
<line x1="1253.20" y1="1228.50" x2="1253.20" y2="1236.50" stroke="#111" stroke-width="1.5"/>
<text class="sm" x="1235.80" y="1261.00" font-size="19.5" fill="#111" textLength="35.02" lengthAdjust="spacingAndGlyphs">100</text>
<text x="1020.82" y="1295.50" font-size="22" fill="#111" textLength="87.54" lengthAdjust="spacingAndGlyphs">log (HR)</text>
</svg></body></html>
